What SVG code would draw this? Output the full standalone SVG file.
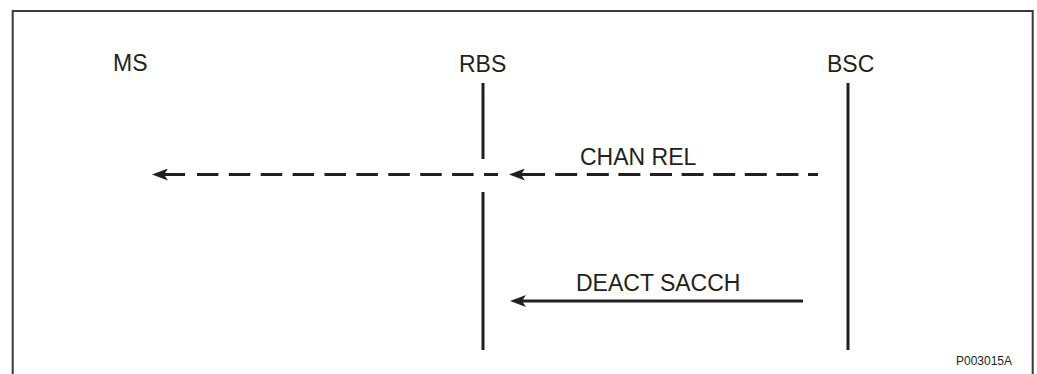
<svg xmlns="http://www.w3.org/2000/svg" width="1037" height="374" viewBox="0 0 1037 374">
<style>
.lbl{font-family:"Liberation Sans",Arial,sans-serif;font-size:23px;fill:#231f20}
.small{font-family:"Liberation Sans",Arial,sans-serif;font-size:12px;fill:#231f20}
.life{stroke:#231f20;stroke-width:3;fill:none}
.msg{stroke:#231f20;stroke-width:3;fill:none}
.frame{stroke:#3a3a3a;stroke-width:2;fill:none}
</style>
<defs>
<marker id="ah" viewBox="0 -6 16 12" refX="4" refY="0" markerWidth="16" markerHeight="12" markerUnits="userSpaceOnUse" orient="auto">
<path d="M0,-6 L16,0 L0,6 L4,0 Z" fill="#231f20"/>
</marker>
</defs>
<path class="frame" d="M12.7,374 V11 H1032.7 V374"/>
<g id="MS"><text class="lbl" x="113" y="71">MS</text></g>
<g id="RBS"><text class="lbl" x="459" y="72">RBS</text>
<path class="life" d="M483,83 V159 M483,192 V350"/></g>
<g id="BSC"><text class="lbl" x="827" y="72">BSC</text>
<path class="life" d="M848,83 V350"/></g>
<g id="connectors">
<path class="msg" d="M818,174.5 H555" stroke-dasharray="22 9.6" stroke-dashoffset="12"/>
<path class="msg" d="M545,174.5 H521" marker-end="url(#ah)"/>
<path class="msg" d="M498,174.5 H197" stroke-dasharray="21.5 10.4" stroke-dashoffset="7.5"/>
<path class="msg" d="M185,174.5 H164" marker-end="url(#ah)"/>
<text class="lbl" x="580" y="165">CHAN REL</text>
<path class="msg" d="M803,301 H522" marker-end="url(#ah)"/>
<text class="lbl" x="576" y="291">DEACT SACCH</text>
</g>
<text class="small" x="956" y="365">P003015A</text>
</svg>
